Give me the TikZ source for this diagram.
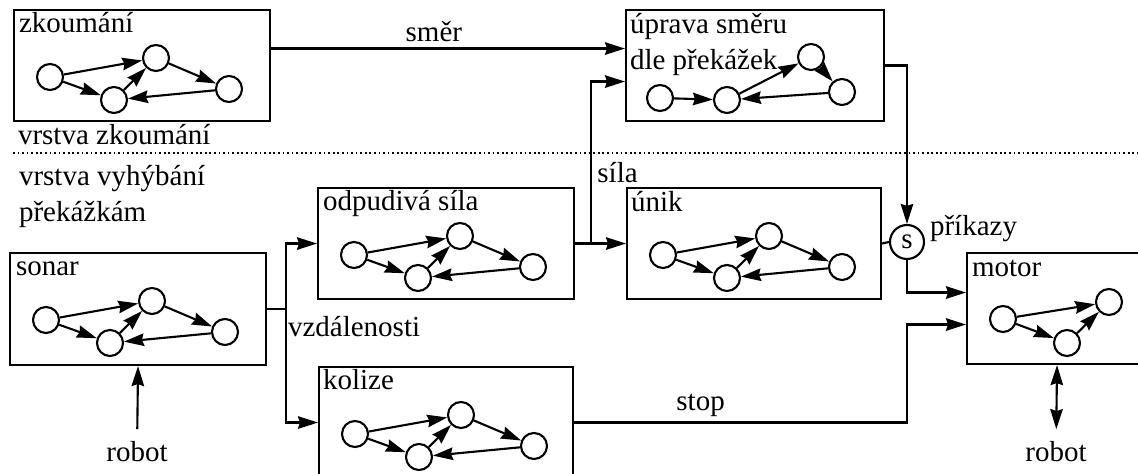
\documentclass[tikz,border=0pt]{standalone}
\usepackage{fontspec}
\setmainfont{Liberation Serif}
\usetikzlibrary{arrows.meta,positioning}

\tikzset{
  blok/.style={draw, anchor=north west, minimum width=25.6mm,
               minimum height=11.1mm, inner sep=0pt},
  nadpis/.style={anchor=base west, inner sep=0pt, align=left},
  st/.style={circle, draw, minimum size=2.6mm, inner sep=0pt},
  hrot/.tip={Stealth[length=2mm,width=1.25mm,inset=0.2mm]},
  sip/.style={-hrot},
  obe/.style={hrot-hrot},
  tecky/.style={line width=0.5pt, dash pattern=on 0.5pt off 0.8pt},
  popis/.style={anchor=base west, inner sep=0pt, align=left},
  % automat se ctyrmi stavy
  pics/ctyri/.style={code={
    \node[st] (-a) at (37,68) {};
    \node[st] (-b) at (101,91) {};
    \node[st] (-c) at (143,49) {};
    \node[st] (-d) at (216,80) {};
    \draw[sip] (-a) -- (-c);
    \draw[sip] (-a) -- (-b);
    \draw[sip] (-b) -- (-c);
    \draw[sip] (-c) -- (-d);
    \draw[sip] (-d) -- (-b);
  }}
}

\begin{document}
\begin{tikzpicture}[x=0.1mm, y=-0.1mm, line width=0.6pt,
                    font=\fontsize{8.25}{10.5}\selectfont]
  \useasboundingbox (0,0) rectangle (1138,474);
  \clip (0,0) rectangle (1138,474);

  % bloky
  \node[blok] (zk) at (13,9) {};
  \node[blok, minimum width=25.8mm] (up) at (625,9) {};
  \node[blok] (od) at (317,187) {};
  \node[blok, minimum width=25.4mm] (un) at (626,187) {};
  \node[blok, minimum height=11.2mm] (so) at (9,252) {};
  \node[blok, minimum width=25.4mm] (ko) at (318,366) {};
  \node[blok, minimum width=18mm] (mo) at (966,252) {};

  % u viceradkoveho textu je base na poslednim radku
  \node[nadpis] at ([shift={(5,24)}]zk.north west) {zkoumání};
  \node[nadpis] at ([shift={(4,61)}]up.north west) {úprava směru\\dle překážek};
  \node[nadpis] at ([shift={(5,24)}]od.north west) {odpudivá síla};
  \node[nadpis] at ([shift={(4,25)}]un.north west) {únik};
  \node[nadpis] at ([shift={(6,24)}]so.north west) {sonar};
  \node[nadpis] at ([shift={(4,24)}]ko.north west) {kolize};
  \node[nadpis] at ([shift={(5,25)}]mo.north west) {motor};

  % automaty uvnitr bloku
  \pic (zkg) at (zk.north west) {ctyri};
  \pic (odg) at (od.north west) {ctyri};
  \pic (ung) at (un.north west) {ctyri};
  \pic (sog) at (so.north west) {ctyri};
  \pic (kog) at (ko.north west) {ctyri};

  \node[st] (up-a) at (660,98) {};
  \node[st] (up-b) at (727,100) {};
  \node[st] (up-c) at (811,57) {};
  \node[st] (up-d) at (842,92) {};
  \draw[sip] (up-a) -- (up-b);
  \draw[sip] (up-b) -- (up-c);
  \draw[sip] (up-c) -- (up-d);
  \draw[sip] (up-d) -- (up-b);

  \node[st] (mo-a) at (1003,319) {};
  \node[st] (mo-b) at (1067,343) {};
  \node[st] (mo-c) at (1109,302) {};
  \draw[sip] (mo-a) -- (mo-c);
  \draw[sip] (mo-a) -- (mo-b);
  \draw[sip] (mo-b) -- (mo-c);

  % vrstvy
  \draw[tecky] (13,153) -- (1138,153);
  \node[popis] at (17,145) {vrstva zkoumání};
  \node[popis] at (18,222) {vrstva vyhýbání\\překážkám};

  % potlaceni
  \node[st, minimum size=3.4mm] (s) at (907,242) {s};
  \node[popis] at (929,236) {příkazy};

  % spoje
  \coordinate (upin1) at ([yshift=1.7mm]up.west);
  \coordinate (upin2) at ([yshift=-1.6mm]up.west);
  \coordinate (moin1) at ([yshift=1.6mm]mo.west);
  \coordinate (moin2) at ([yshift=-1.6mm]mo.west);
  \coordinate (odb) at ([xshift=1.6mm]od.east);
  \coordinate (sob) at ([xshift=1.9mm]so.east);

  \draw[sip] (zk.east |- upin1) -- node[pos=0.46, above, inner sep=1.5pt] {směr} (upin1);
  \draw[sip] (od.east) -- (un.west);
  \draw[sip] (odb) |- node[pos=0.22, right, inner sep=1.5pt] {síla} (upin2);
  \draw (un.east) -- (s.west);
  \draw[sip] (up.east) -| (s.north);
  \draw[sip] (s.south) |- (moin1);
  \draw[sip] (ko.east) -- node[pos=0.38, above, inner sep=1.5pt] {stop} (s |- ko.east) |- (moin2);

  \draw (so.east) -- (sob);
  \draw[sip] (sob) |- (od.west);
  \draw[sip] (sob) |- (ko.west);
  \node[popis] at (287,337) {vzdálenosti};

  \node[anchor=base] (rob1) at (137,462) {robot};
  \draw[sip] (rob1) -- (so.south);
  \node[anchor=base] (rob2) at (1056,462) {robot};
  \draw[obe] (rob2) -- (mo.south);
\end{tikzpicture}
\end{document}
